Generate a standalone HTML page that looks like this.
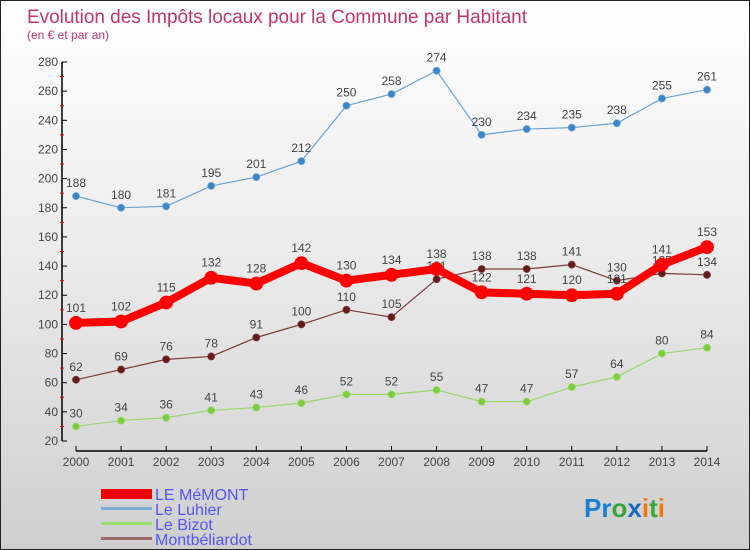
<!DOCTYPE html>
<html><head><meta charset="utf-8"><style>
body{margin:0}
#c{position:relative;width:748px;height:548px;border:1px solid #222;background:linear-gradient(#fff,#ececec 45%,#cfcfcf);font-family:"Liberation Sans",sans-serif;overflow:hidden}
svg text{font-family:"Liberation Sans",sans-serif}
</style></head><body>
<div id="c">
<svg id="s" width="748" height="548">
<text x="26" y="22" font-size="19" fill="#c2356d" textLength="500">Evolution des Impôts locaux pour la Commune par Habitant</text>
<text x="26" y="38" font-size="12" fill="#c2356d">(en € et par an)</text>
<g id="axes"></g><g id="series"></g>
<g>
<rect x="100" y="488" width="51" height="10" fill="#e00"/>
<text x="154" y="499" font-size="16" fill="#5555ee">LE MéMONT</text>
<rect x="100" y="506" width="51" height="3" fill="#7aaed8"/>
<text x="154" y="514" font-size="16" fill="#5555ee">Le Luhier</text>
<rect x="100" y="521" width="51" height="3" fill="#98dd6a"/>
<text x="154" y="529" font-size="16" fill="#5555ee">Le Bizot</text>
<rect x="100" y="536" width="51" height="3" fill="#9a6a6a"/>
<text x="154" y="544" font-size="16" fill="#5555ee">Montbéliardot</text>
</g>
<text x="583" y="516" font-size="26" font-weight="bold"><tspan fill="#1a7fd0">Pr</tspan><tspan fill="#3aa53a">o</tspan><tspan fill="#1a6ac0">x</tspan><tspan fill="#f07a10">i</tspan><tspan fill="#3aa53a">t</tspan><tspan fill="#f07a10">i</tspan></text>
</svg></div>
<script>
const years=[2000,2001,2002,2003,2004,2005,2006,2007,2008,2009,2010,2011,2012,2013,2014];
const memont=[101,102,115,132,128,142,130,134,138,122,121,120,121,141,153];
const luhier=[188,180,181,195,201,212,250,258,274,230,234,235,238,255,261];
const bizot=[30,34,36,41,43,46,52,52,55,47,47,57,64,80,84];
const montbeliardot=[62,69,76,78,91,100,110,105,131,138,138,141,130,135,134];
const yTicks=[20,40,60,80,100,120,140,160,180,200,220,240,260,280];
const NS='http://www.w3.org/2000/svg';
const X=i=>75+i*(706-75)/(years.length-1);
const Y=v=>440-(v-20)*(440-61)/260;
function mk(t,a,p){const e=document.createElementNS(NS,t);for(const k in a)e.setAttribute(k,a[k]);p.appendChild(e);return e;}
const ax=document.getElementById('axes');
let l=mk('line',{x1:61,y1:61,x2:61,y2:440,stroke:'#000','stroke-width':1.5},ax);


l=mk('line',{x1:75,y1:450,x2:706,y2:450,stroke:'#000','stroke-width':1.5},ax);


yTicks.forEach(v=>{
 mk('line',{x1:61,y1:Y(v),x2:66,y2:Y(v),stroke:'#000'},ax);
 if(v<280)mk('line',{x1:59,y1:Y(v+10),x2:63,y2:Y(v+10),stroke:'#e00'},ax);
 const t=mk('text',{x:57,y:Y(v)+4,'font-size':12,fill:'#444','text-anchor':'end'},ax);t.textContent=v;
 
 
});
years.forEach((y,i)=>{
 mk('line',{x1:X(i),y1:445,x2:X(i),y2:450,stroke:'#000'},ax);
 const t=mk('text',{x:X(i),y:465,'font-size':12,fill:'#444','text-anchor':'middle'},ax);t.textContent=y;
 
 
});
const sg=document.getElementById('series');
function draw(vals,name,color,dot,w,r){
 const g=mk('g',{},sg);
 
 
 mk('polyline',{points:vals.map((v,i)=>X(i)+','+Y(v)).join(' '),fill:'none',stroke:color,'stroke-width':w,'stroke-linejoin':'round'},g);
 vals.forEach((v,i)=>{
  const c=mk('circle',{cx:X(i),cy:Y(v),r:r,fill:dot,stroke:color,'stroke-width':0.8},g);
  
  
  const t=mk('text',{x:X(i),y:Y(v)-9-(r>5?2:0),'font-size':12,fill:'#444','text-anchor':'middle'},g);t.textContent=v;
  
  
 });
}
draw(luhier,'luhier','#6aa3d3','#3a86c8',1.2,3.5);
draw(bizot,'bizot','#95d86a','#7ccc3c',1.2,3.5);
draw(montbeliardot,'montbeliardot','#7a3a3a','#661a1a',1.2,3.5);
draw(memont,'memont','#f00','#f00',8,6.5);
</script>
</body></html>
